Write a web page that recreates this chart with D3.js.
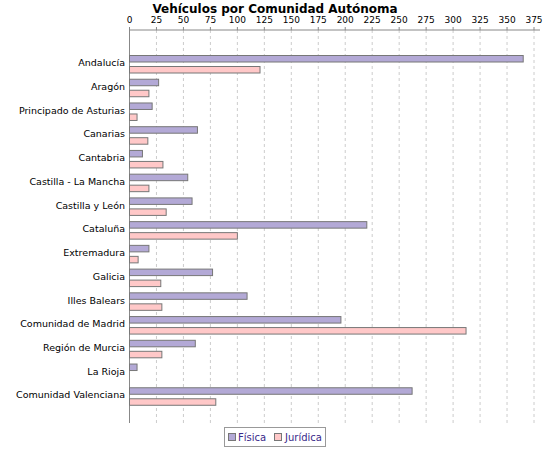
<!DOCTYPE html><html><head><meta charset="utf-8"><script src="https://cdn.jsdelivr.net/npm/d3@7"></script>
<style>body{margin:0;background:#fff}text{font-family:"DejaVu Sans",sans-serif}</style></head><body><svg width="550" height="450"></svg><script>
const categories=["Andalucía","Aragón","Principado de Asturias","Canarias","Cantabria","Castilla - La Mancha","Castilla y León","Cataluña","Extremadura","Galicia","Illes Balears","Comunidad de Madrid","Región de Murcia","La Rioja","Comunidad Valenciana"];
const fisica=[365,27,21,63,12,54,58,220,18,77,109,196,61,7,262];
const juridica=[121,18,7,17,31,18,34,100,8,29,30,312,30,0,80];
const ticks=d3.range(0,376,25);
const svg=d3.select("svg");
const x=d3.scaleLinear().domain([0,375]).range([129.5,534]);
const y=d3.scaleBand().domain(categories).range([52,408]);
const pTop=30,pBottom=423,pRight=540;
svg.append("text").attr("x",275).attr("y",13).attr("text-anchor","middle").attr("font-weight","bold").attr("font-size",12).text("Vehículos por Comunidad Autónoma");
ticks.forEach(t=>{
 svg.append("line").attr("x1",x(t)).attr("x2",x(t)).attr("y1",pTop).attr("y2",pBottom).attr("stroke","#ccc").attr("stroke-dasharray","3,3");
 svg.append("line").attr("x1",x(t)).attr("x2",x(t)).attr("y1",pTop-3).attr("y2",pTop).attr("stroke","#888");
 svg.append("text").attr("x",x(t)).attr("y",pTop-7).attr("text-anchor","middle").attr("font-size",9).text(t);
});
svg.append("line").attr("x1",129.5).attr("x2",pRight).attr("y1",pTop).attr("y2",pTop).attr("stroke","#888");
svg.append("line").attr("x1",129.5).attr("x2",129.5).attr("y1",pTop).attr("y2",pBottom).attr("stroke","#888");
categories.forEach((c,i)=>{
 const b=y(c);
 svg.append("rect").attr("x",x(0)).attr("y",b+3.5).attr("width",x(fisica[i])-x(0)).attr("height",6.5).attr("fill","#b3a9d6").attr("stroke","#777");
 if(juridica[i]>0) svg.append("rect").attr("x",x(0)).attr("y",b+14.5).attr("width",x(juridica[i])-x(0)).attr("height",6.5).attr("fill","#ffc8c8").attr("stroke","#777");
 svg.append("text").attr("x",125).attr("y",b+y.bandwidth()/2-1).attr("dy","0.35em").attr("text-anchor","end").attr("font-size",9.5).text(c);
});
const lg=svg.append("g");
lg.append("rect").attr("x",224.5).attr("y",427.5).attr("width",101).attr("height",19).attr("fill","#fff").attr("stroke","#999");
lg.append("rect").attr("x",228.5).attr("y",433.5).attr("width",7).attr("height",7).attr("fill","#b3a9d6").attr("stroke","#777");
lg.append("text").attr("x",238).attr("y",441).attr("font-size",10).attr("fill","#3a2a8a").text("Física");
lg.append("rect").attr("x",274.5).attr("y",433.5).attr("width",7).attr("height",7).attr("fill","#ffc8c8").attr("stroke","#777");
lg.append("text").attr("x",285).attr("y",441).attr("font-size",10).attr("fill","#3a2a8a").text("Jurídica");
</script></body></html>
